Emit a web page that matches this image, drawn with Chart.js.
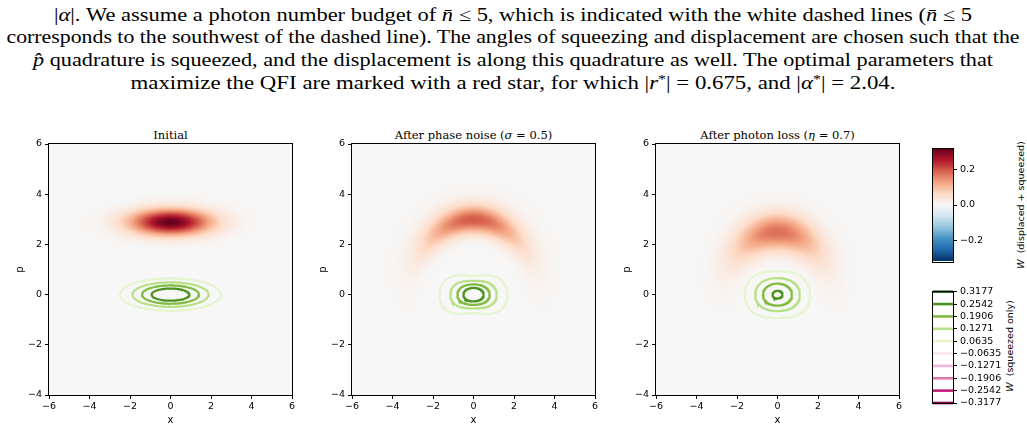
<!DOCTYPE html>
<html><head><meta charset="utf-8">
<script src="https://cdn.jsdelivr.net/npm/chart.js@4.4.1/dist/chart.umd.min.js"></script>
<style>
body{margin:0;width:1027px;height:430px;background:#fff;position:relative;overflow:hidden;}
.tl{position:absolute;left:513px;white-space:nowrap;font-family:'Liberation Serif',serif;font-size:18.5px;line-height:20px;color:#000;transform-origin:0 50%;}
.tl sup{font-size:0.7em;line-height:0;vertical-align:0.5em;}
.ptitle{position:absolute;top:127px;font-family:'DejaVu Serif',serif;font-size:11.5px;line-height:16px;white-space:nowrap;transform:translateX(-50%);color:#000;}
canvas{position:absolute;}
.cbl{position:absolute;font-family:'DejaVu Sans',sans-serif;font-size:9.5px;line-height:12px;white-space:nowrap;transform:translate(-50%,-50%) rotate(-90deg);color:#000;}
</style></head><body>
<div class="tl" id="l0" data-w="918" style="top:5px">|<i>α</i>|. We assume a photon number budget of <i>n̄</i> ≤ 5, which is indicated with the white dashed lines (<i>n̄</i> ≤ 5</div>
<div class="tl" id="l1" data-w="1013" style="top:27px">corresponds to the southwest of the dashed line). The angles of squeezing and displacement are chosen such that the</div>
<div class="tl" id="l2" data-w="960" style="top:50px"><i>p̂</i> quadrature is squeezed, and the displacement is along this quadrature as well. The optimal parameters that</div>
<div class="tl" id="l3" data-w="765" style="top:73px">maximize the QFI are marked with a red star, for which |<i>r</i><sup>*</sup>| = 0.675, and |<i>α</i><sup>*</sup>| = 2.04.</div>
<div id="titles"></div>
<div class="cbl" style="left:1021px;top:205px"><i>W</i>&nbsp; (displaced + squeezed)</div>
<div class="cbl" style="left:1010px;top:346px"><i>W</i>&nbsp; (squeezed only)</div>
<script>
// ---------------- data ----------------
const panelTitles = ['Initial', 'After phase noise (<i>σ</i> = 0.5)', 'After photon loss (<i>η</i> = 0.7)'];
const squeezingR = 0.675;          // |r*|
const displacementAlpha = 2.04;    // |α*|
const phaseNoiseSigma = [0, 0.5, 0.5];
const photonLossEta = [1, 1, 0.7];
const contourLevels = [-0.3177, -0.2542, -0.1906, -0.1271, -0.0635, 0.0635, 0.1271, 0.1906, 0.2542, 0.3177];
const xTicks = [-6, -4, -2, 0, 2, 4, 6];
const pTicks = [-4, -2, 0, 2, 4, 6];
const colorbarTicks = [-0.2, 0, 0.2];
const xRange = [-6, 6];
const pRange = [-4, 6];
const wLimits = [-0.3177, 0.3177];

// ---------------- styles ----------------
const contourColors = ['#8e0152','#c51b7d','#de77ae','#f1b6da','#fde0ef','#e6f5d0','#b8e186','#7fbc41','#4d9221','#276419'];
const rdbuR = ['#053061','#2166ac','#4393c3','#92c5de','#d1e5f0','#f7f7f7','#fddbc7','#f4a582','#d6604d','#b2182b','#67001f'];
const panelAreaLeft = [49, 352, 656];
const tickFont = {family: 'DejaVu Sans', size: 9.5};
const labelFont = {family: 'DejaVu Sans', size: 10};

// ---------------- text layout ----------------
document.querySelectorAll('.tl').forEach(el => {
  const w = el.getBoundingClientRect().width;
  const target = +el.dataset.w;
  el.style.transform = `translateX(${-target/2}px) scaleX(${target / w})`;
});
const titlesDiv = document.getElementById('titles');
panelTitles.forEach((t, i) => {
  const d = document.createElement('div');
  d.className = 'ptitle';
  d.style.left = (panelAreaLeft[i] + 121.5) + 'px';
  d.innerHTML = t;
  titlesDiv.appendChild(d);
});

// ---------------- model (Gaussian Wigner functions) ----------------
function wigner(i, displaced) {
  const r = squeezingR, eta = photonLossEta[i], s = phaseNoiseSigma[i];
  let vx = Math.exp(2 * r) / 2, vp = Math.exp(-2 * r) / 2;
  vx = eta * vx + (1 - eta) / 2;
  vp = eta * vp + (1 - eta) / 2;
  const mp = displaced ? Math.SQRT2 * displacementAlpha * Math.sqrt(eta) : 0;
  const cs = [], sn = [], wt = [];
  if (s === 0) { cs.push(1); sn.push(0); wt.push(1); }
  else {
    const n = 81; let tot = 0;
    for (let k = 0; k < n; k++) {
      const phi = -4 * s + 8 * s * k / (n - 1);
      const w = Math.exp(-phi * phi / (2 * s * s));
      cs.push(Math.cos(phi)); sn.push(Math.sin(phi)); wt.push(w); tot += w;
    }
    for (let k = 0; k < n; k++) wt[k] /= tot;
  }
  const norm = 1 / (2 * Math.PI * Math.sqrt(vx * vp));
  const ax = 1 / (2 * vx), ap = 1 / (2 * vp);
  return (x, p) => {
    let sum = 0;
    for (let k = 0; k < wt.length; k++) {
      const xr = cs[k] * x + sn[k] * p;
      const pr = -sn[k] * x + cs[k] * p - mp;
      sum += wt[k] * Math.exp(-xr * xr * ax - pr * pr * ap);
    }
    return norm * sum;
  };
}

function hexRgb(h) { return [parseInt(h.slice(1,3),16), parseInt(h.slice(3,5),16), parseInt(h.slice(5,7),16)]; }
const rdbuRgb = rdbuR.map(hexRgb);
function cmap(v) {
  let t = (v - wLimits[0]) / (wLimits[1] - wLimits[0]);
  t = Math.max(0, Math.min(1, t)) * (rdbuRgb.length - 1);
  const k = Math.min(rdbuRgb.length - 2, Math.floor(t)), f = t - k;
  const a = rdbuRgb[k], b = rdbuRgb[k + 1];
  return [a[0] + (b[0]-a[0])*f, a[1] + (b[1]-a[1])*f, a[2] + (b[2]-a[2])*f];
}

// closed contour around the origin (field decreases along every ray); none if the level is never crossed
function contourPath(f, level) {
  if (level <= 0 || f(0, 0) < level) return null;
  const pts = []; let rmax = 0;
  const N = 240, R = 8;
  for (let a = 0; a <= N; a++) {
    const th = 2 * Math.PI * a / N, c = Math.cos(th), s = Math.sin(th);
    if (f(R * c, R * s) >= level) return null;
    let lo = 0, hi = R;
    for (let it = 0; it < 40; it++) {
      const mid = (lo + hi) / 2;
      if (f(mid * c, mid * s) >= level) lo = mid; else hi = mid;
    }
    rmax = Math.max(rmax, lo);
    pts.push({x: lo * c, y: lo * s});
  }
  return rmax > 0.15 ? pts : null;
}

const fmt = v => String(v).replace('-', '\u2212');

const heatPlugin = {
  id: 'heat',
  beforeDatasetsDraw(chart) {
    const {left, top, right, bottom} = chart.chartArea;
    const xs = chart.scales.x, ys = chart.scales.y;
    if (!chart.$off) {
      const w = Math.round(right - left), h = Math.round(bottom - top);
      const off = document.createElement('canvas'); off.width = w; off.height = h;
      const octx = off.getContext('2d');
      const img = octx.createImageData(w, h);
      const f = chart.$field;
      for (let j = 0; j < h; j++) {
        const p = ys.getValueForPixel(top + j + 0.5);
        for (let i = 0; i < w; i++) {
          const x = xs.getValueForPixel(left + i + 0.5);
          const c = cmap(f(x, p));
          const o = 4 * (j * w + i);
          img.data[o] = c[0]; img.data[o+1] = c[1]; img.data[o+2] = c[2]; img.data[o+3] = 255;
        }
      }
      octx.putImageData(img, 0, 0);
      chart.$off = off;
    }
    chart.ctx.drawImage(chart.$off, left, top, right - left, bottom - top);
  }
};
const framePlugin = {
  id: 'frame',
  afterDraw(chart) {
    const {left, top, right, bottom} = chart.chartArea;
    const ctx = chart.ctx;
    ctx.save(); ctx.strokeStyle = '#000'; ctx.lineWidth = 1;
    ctx.strokeRect(Math.round(left) - 0.5, Math.round(top) - 0.5, Math.round(right - left) + 1, Math.round(bottom - top) + 1);
    ctx.restore();
  }
};

function makeCanvas(left, top, w, h) {
  const c = document.createElement('canvas');
  c.width = w; c.height = h;
  c.style.left = left + 'px'; c.style.top = top + 'px';
  c.style.width = w + 'px'; c.style.height = h + 'px';
  document.body.appendChild(c);
  return c;
}

// ---------------- panels ----------------
for (let i = 0; i < 3; i++) {
  const canvas = makeCanvas(panelAreaLeft[i] - 49, 130, 302, 300);
  const fDisp = wigner(i, true), fSq = wigner(i, false);
  const datasets = [];
  contourLevels.forEach((lv, k) => {
    const pts = contourPath(fSq, lv);
    if (pts) datasets.push({data: pts, showLine: true, borderColor: contourColors[k], borderWidth: 2.2,
      pointRadius: 0, fill: false, tension: 0});
  });
  new Chart(canvas, {
    type: 'scatter',
    data: {datasets},
    options: {
      responsive: false, animation: false, events: [],
      layout: {padding: {left: 0, top: 14, right: 10, bottom: 0}},
      plugins: {legend: {display: false}, tooltip: {enabled: false}},
      scales: {
        x: {type: 'linear', min: xRange[0], max: xRange[1],
          afterBuildTicks: s => { s.ticks = xTicks.map(v => ({value: v})); },
          afterFit: s => { s.height = 35; },
          grid: {drawOnChartArea: false, drawTicks: true, tickLength: 4, color: '#000', lineWidth: 1},
          border: {display: false},
          ticks: {font: tickFont, color: '#000', padding: 2, maxRotation: 0, autoSkip: false, callback: v => fmt(v)},
          title: {display: true, text: 'x', font: labelFont, color: '#000', padding: {top: 0, bottom: 4}}},
        y: {type: 'linear', min: pRange[0], max: pRange[1],
          afterBuildTicks: s => { s.ticks = pTicks.map(v => ({value: v})); },
          afterFit: s => { s.width = 49; },
          grid: {drawOnChartArea: false, drawTicks: true, tickLength: 4, color: '#000', lineWidth: 1},
          border: {display: false},
          ticks: {font: tickFont, color: '#000', padding: 3, autoSkip: false, callback: v => fmt(v)},
          title: {display: true, text: 'p', font: labelFont, color: '#000', padding: {top: 14, bottom: 0}}}
      }
    },
    plugins: [{id: 'field', beforeInit(c) { c.$field = fDisp; }}, heatPlugin, framePlugin]
  });
}

// ---------------- colorbar 1 (heatmap) ----------------
{
  const canvas = makeCanvas(925, 140, 102, 130);
  new Chart(canvas, {
    type: 'scatter', data: {datasets: []},
    options: {
      responsive: false, animation: false, events: [],
      layout: {padding: {left: 8, top: 7, right: 0, bottom: 8}},
      plugins: {legend: {display: false}, tooltip: {enabled: false}},
      scales: {
        x: {display: false, min: 0, max: 1},
        y: {position: 'right', min: wLimits[0], max: wLimits[1],
          afterBuildTicks: s => { s.ticks = colorbarTicks.map(v => ({value: v})); },
          afterFit: s => { s.width = 74; },
          grid: {drawOnChartArea: false, drawTicks: true, tickLength: 4, color: '#000'},
          border: {display: false},
          ticks: {font: tickFont, color: '#000', padding: 3, callback: v => fmt(v.toFixed(1))}}
      }
    },
    plugins: [{id: 'grad', beforeDatasetsDraw(chart) {
      const {left, top, right, bottom} = chart.chartArea; const ctx = chart.ctx; const ys = chart.scales.y;
      for (let j = Math.round(top); j < Math.round(bottom); j++) {
        const c = cmap(ys.getValueForPixel(j + 0.5));
        ctx.fillStyle = `rgb(${c[0]|0},${c[1]|0},${c[2]|0})`;
        ctx.fillRect(left, j, right - left, 1);
      }
    }}, framePlugin]
  });
}

// ---------------- colorbar 2 (contour levels) ----------------
{
  const canvas = makeCanvas(925, 283, 102, 130);
  const levelIdx = contourLevels.map((_, k) => k);
  new Chart(canvas, {
    type: 'scatter',
    data: {datasets: levelIdx.map(k => ({data: [{x: 0, y: k}, {x: 1, y: k}], showLine: true,
      borderColor: contourColors[k], borderWidth: 2.6, pointRadius: 0, clip: false}))},
    options: {
      responsive: false, animation: false, events: [],
      layout: {padding: {left: 8, top: 7, right: 0, bottom: 10}},
      plugins: {legend: {display: false}, tooltip: {enabled: false}},
      scales: {
        x: {display: false, min: 0, max: 1},
        y: {position: 'right', min: 0, max: contourLevels.length - 1,
          afterBuildTicks: s => { s.ticks = levelIdx.map(v => ({value: v})); },
          afterFit: s => { s.width = 74; },
          grid: {drawOnChartArea: false, drawTicks: true, tickLength: 4, color: '#000'},
          border: {display: false},
          ticks: {font: tickFont, color: '#000', padding: 3, autoSkip: false,
            callback: v => fmt(contourLevels[v].toFixed(4))}}
      }
    },
    plugins: [framePlugin]
  });
}
</script>
</body></html>
